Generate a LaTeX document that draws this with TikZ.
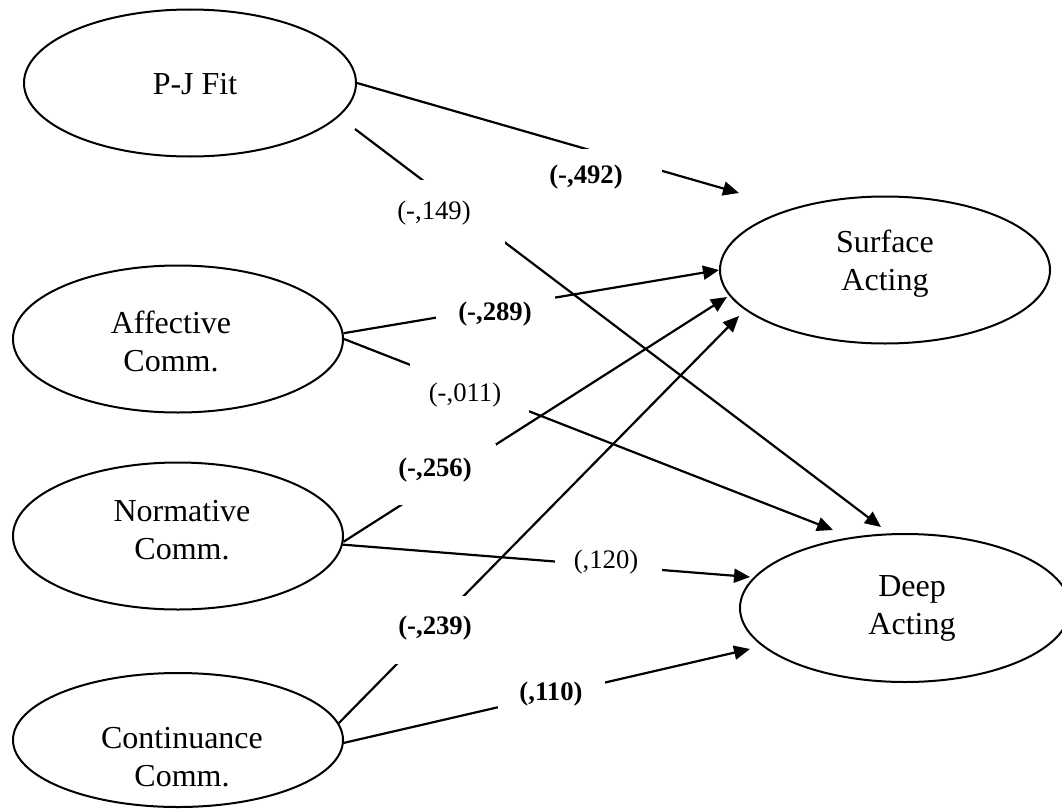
\documentclass[tikz,border=0pt]{standalone}
\usepackage{fontspec}
\setmainfont{Liberation Serif}
\usetikzlibrary{shapes.geometric,arrows.meta}
\begin{document}
\begin{tikzpicture}[x=1pt,y=-1pt,
  latent/.style={ellipse, draw, line width=2pt, inner sep=0pt, minimum width=330pt, minimum height=147pt},
  nm/.style={font=\fontsize{32}{38}\selectfont, align=center, inner sep=0pt},
  pathar/.style={line width=2.2pt, -{Triangle[length=16pt,width=14pt]}},
  coef/.style={font=\fontsize{26.7}{32}\selectfont, inner sep=0pt},
  coefb/.style={font=\fontsize{26.7}{32}\selectfont\bfseries, inner sep=0pt},
  mask/.style={fill=white}
]
\useasboundingbox (0,0) rectangle (1062,808);

% latent variables
\node[latent, minimum width=332pt, label={[nm, xshift=5pt, yshift=-1pt]center:P-J Fit}] (pj) at (190,83) {};
\node[latent, label={[nm, xshift=-7pt, yshift=-2pt]center:Affective\\Comm.}] (aff) at (178,339) {};
\node[latent, label={[nm, xshift=4pt, yshift=6pt]center:Normative\\Comm.}] (norm) at (178,536) {};
\node[latent, minimum height=134pt, label={[nm, xshift=4pt, yshift=-17pt]center:Continuance\\Comm.}] (cont) at (178,740) {};
\node[latent, label={[nm, yshift=6pt]center:Surface\\Acting}] (surf) at (885,270) {};
\node[latent, minimum height=148pt, label={[nm, xshift=7pt]center:Deep\\Acting}] (deep) at (905,608) {};

% free ends
\coordinate (pjd) at (355,129);
\coordinate (s1) at (739,193);
\coordinate (s3) at (727,297);
\coordinate (s4) at (739,316);
\coordinate (d1) at (881,527);
\coordinate (d2) at (833,530);
\coordinate (d3) at (750,577);
\coordinate (d4) at (750,649);

% paths
\draw[pathar] (pj.east) -- (s1);
\draw[pathar] (pjd) -- (d1);
\draw[pathar] (aff.2) -- (surf.west);
\draw[pathar] (aff.east) -- (d2);
\draw[pathar] (norm.-2) -- (s3);
\draw[pathar] (norm.-3.5) -- (d3);
\draw[pathar] (cont.6.6) -- (s4);
\draw[pathar] (cont.-1.5) -- (d4);

% coefficient text boxes
\fill[mask] (540,149) rectangle (662,197);
\node[coefb] (c492) at (586,177) {(-,492)};
\fill[mask] (390,180) rectangle (505,245);
\node[coef] (c149) at (434,213) {(-,149)};
\fill[mask] (436,296) rectangle (555,334);
\node[coefb] (c289) at (495,314) {(-,289)};
\fill[mask] (410,360) rectangle (529,414);
\node[coef] (c011) at (465,395) {(-,011)};
\fill[mask] (392,444) rectangle (496,505);
\node[coefb] (c256) at (435,470) {(-,256)};
\fill[mask] (555,546) rectangle (662,580);
\node[coef] (c120) at (606,562) {(,120)};
\fill[mask] (393,596) rectangle (475,664);
\node[coefb] (c239) at (435,628) {(-,239)};
\fill[mask] (498,680) rectangle (605,712);
\node[coefb] (c110) at (551,694) {(,110)};
\end{tikzpicture}
\end{document}
